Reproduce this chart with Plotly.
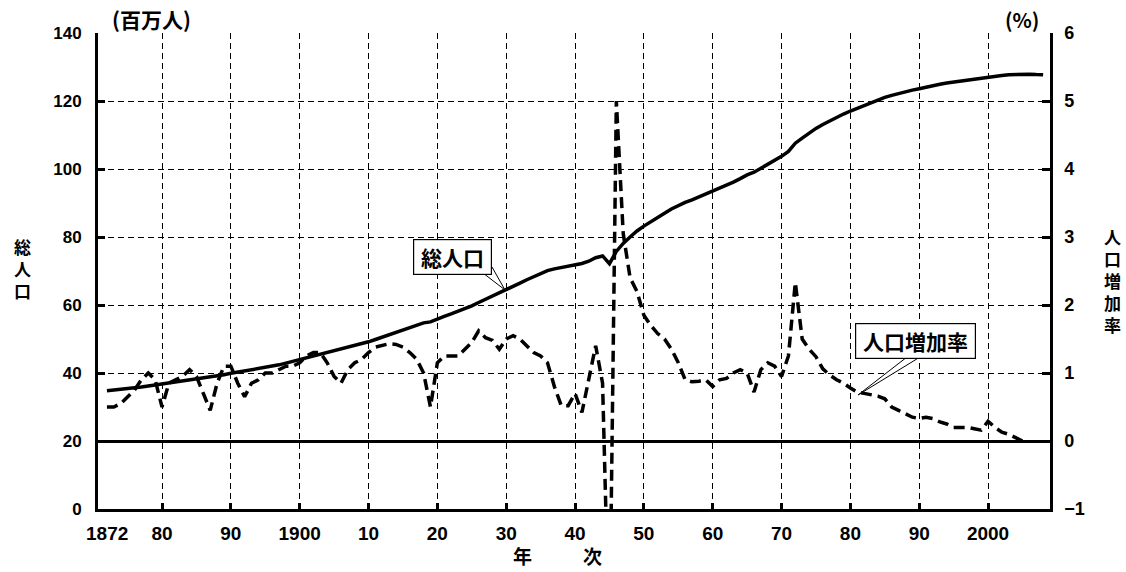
import plotly.graph_objects as go

# ---------------- data ----------------
pop_years = list(range(1872, 2009))
population = [
    34.81, 34.99, 35.15, 35.32, 35.56, 35.87, 36.17, 36.46, 36.65, 36.97,
    37.26, 37.57, 37.96, 38.31, 38.54, 38.70, 39.03, 39.47, 39.90, 40.25,
    40.51, 40.86, 41.14, 41.56, 41.99, 42.40, 42.89, 43.40, 43.85, 44.36,
    44.96, 45.55, 46.14, 46.62, 47.04, 47.42, 47.97, 48.55, 49.18, 49.85,
    50.58, 51.31, 52.04, 52.75, 53.50, 54.13, 54.74, 55.03, 55.96, 56.67,
    57.39, 58.12, 58.88, 59.74, 60.74, 61.66, 62.60, 63.46, 64.45, 65.46,
    66.43, 67.43, 68.31, 69.25, 70.11, 70.63, 71.01, 71.38, 71.93, 72.22,
    72.88, 73.90, 74.43, 72.15, 75.75, 78.10, 80.00, 81.77, 83.20, 84.54,
    85.81, 86.98, 88.24, 89.28, 90.17, 90.93, 91.77, 92.64, 93.42, 94.29,
    95.18, 96.16, 97.18, 98.28, 99.04, 100.20, 101.33, 102.54, 103.72, 105.15,
    107.60, 109.10, 110.57, 111.94, 113.09, 114.17, 115.19, 116.16, 117.06, 117.90,
    118.73, 119.54, 120.31, 121.05, 121.66, 122.24, 122.75, 123.21, 123.61, 124.10,
    124.57, 124.94, 125.27, 125.57, 125.86, 126.16, 126.47, 126.67, 126.93, 127.32,
    127.49, 127.69, 127.79, 127.77, 127.90, 127.77, 127.69,
]

rate_years = list(range(1872, 2006))
growth_rate = [
    0.50, 0.50, 0.55, 0.65, 0.75, 0.90, 1.00, 0.90, 0.50, 0.85,
    0.90, 0.95, 1.05, 0.95, 0.70, 0.45, 0.85, 1.10, 1.10, 0.85,
    0.65, 0.85, 0.90, 1.00, 1.00, 1.05, 1.10, 1.10, 1.15, 1.25,
    1.30, 1.30, 1.15, 0.95, 0.85, 1.05, 1.15, 1.20, 1.30, 1.38,
    1.40, 1.43, 1.42, 1.38, 1.30, 1.20, 1.00, 0.50, 1.15, 1.25,
    1.25, 1.25, 1.35, 1.45, 1.62, 1.52, 1.48, 1.35, 1.50, 1.55,
    1.50, 1.40, 1.30, 1.25, 1.15, 0.80, 0.52, 0.52, 0.70, 0.42,
    0.90, 1.40, 0.85, -3.07, 5.00, 3.05, 2.40, 2.20, 1.85, 1.70,
    1.58, 1.50, 1.35, 1.15, 0.90, 0.87, 0.88, 0.90, 0.80, 0.90,
    0.92, 1.00, 1.05, 1.00, 0.72, 1.05, 1.15, 1.10, 0.95, 1.25,
    2.33, 1.50, 1.35, 1.24, 1.06, 0.97, 0.90, 0.85, 0.78, 0.72,
    0.70, 0.68, 0.66, 0.62, 0.50, 0.45, 0.40, 0.35, 0.33, 0.35,
    0.33, 0.28, 0.25, 0.20, 0.20, 0.20, 0.18, 0.16, 0.29, 0.20,
    0.13, 0.10, 0.05, 0.00,
]

x_tick_vals = [1880, 1890, 1900, 1910, 1920, 1930, 1940, 1950, 1960, 1970, 1980, 1990, 2000]
x_tick_text = ["80", "90", "1900", "10", "20", "30", "40", "50", "60", "70", "80", "90", "2000"]
first_year_label = "1872"
left_ticks = [0, 20, 40, 60, 80, 100, 120, 140]
right_ticks = [-1, 0, 1, 2, 3, 4, 5, 6]

# ---------------- layout helpers ----------------
W, H = 1126, 572
L, R, T, B = 98, 1050, 33, 509   # plot area in window pixels


def px2paper(px, py):
    return (px - L) / (R - L), (B - py) / (B - T)


NUM = "Liberation Sans, Arial, sans-serif"
JP = "Noto Sans CJK JP, sans-serif"


def JPF(s):
    return dict(family=JP, size=s, color="black", weight="bold")


fig = go.Figure()
fig.add_trace(go.Scatter(
    x=pop_years, y=population, mode="lines", name="総人口",
    line=dict(color="black", width=3.5), yaxis="y",
))
fig.add_trace(go.Scatter(
    x=rate_years, y=growth_rate, mode="lines", name="人口増加率",
    line=dict(color="black", width=3.5, dash="11px,6px"), yaxis="y2",
))

fig.update_layout(
    width=W, height=H,
    margin=dict(l=L, r=W - R, t=T, b=H - B),
    paper_bgcolor="white", plot_bgcolor="white",
    showlegend=False,
    xaxis=dict(
        range=[1870.7, 2009.0], tickmode="array", tickvals=x_tick_vals, ticktext=x_tick_text,
        showgrid=True, gridcolor="black", gridwidth=1, griddash="6px,4px",
        showline=True, linecolor="black", linewidth=3,
        ticks="inside", ticklen=6, tickwidth=3, tickcolor="black",
        tickfont=dict(family=NUM, size=19, color="black", weight="bold"),
        zeroline=False, ticklabelstandoff=5,
    ),
    yaxis=dict(
        range=[0, 140], tickmode="array", tickvals=left_ticks,
        showgrid=True, gridcolor="black", gridwidth=1, griddash="6px,4px",
        showline=True, linecolor="black", linewidth=3,
        ticks="inside", ticklen=7, tickwidth=3, tickcolor="black",
        tickfont=dict(family=NUM, size=17, color="black", weight="bold"),
        zeroline=False, ticklabelstandoff=10,
    ),
    yaxis2=dict(
        range=[-1, 6], tickmode="array", tickvals=right_ticks,
        overlaying="y", side="right", showgrid=False,
        showline=True, linecolor="black", linewidth=2.5,
        ticks="inside", ticklen=8, tickwidth=3, tickcolor="black",
        tickfont=dict(family=NUM, size=18, color="black", weight="bold"),
        zeroline=True, zerolinecolor="black", zerolinewidth=3,
        ticklabelstandoff=8,
    ),
)

ann = []


def add_text(px, py, text, font, **kw):
    ax, ay = px2paper(px, py)
    ann.append(dict(x=ax, y=ay, xref="paper", yref="paper", text=text, showarrow=False,
                    font=font, xanchor="center", yanchor="middle", **kw))


# first x label (no grid line at 1872)
ann.append(dict(x=1872, y=(B - 533) / (B - T), xref="x", yref="paper", text=first_year_label,
                showarrow=False, font=dict(family=NUM, size=19, color="black", weight="bold"),
                xanchor="center", yanchor="middle"))
# unit labels
add_text(151, 19, "(百万人)", JPF(21))
add_text(1022, 19, "(%)", JPF(20))
# x title
add_text(522, 555, "年", JPF(19))
add_text(592, 555, "次", JPF(19))
# vertical axis titles
add_text(22, 268, "総<br>人<br>口", JPF(17))
add_text(1112, 280, "人<br>口<br>増<br>加<br>率", JPF(17))
# callout boxes
add_text(452, 257, " 総人口 ", JPF(21), bgcolor="white", bordercolor="black",
         borderwidth=1.2, borderpad=2)
add_text(915, 341, " 人口増加率 ", JPF(21), bgcolor="white", bordercolor="black",
         borderwidth=1.2, borderpad=2)
fig.update_layout(annotations=ann)

# callout pointer wedges
shapes = []
for (p1, p2, tip) in (((483, 273), (492, 267), (505, 290)),
                      ((907, 357), (920, 357), (858, 395))):
    a = px2paper(*p1)
    b = px2paper(*p2)
    c = px2paper(*tip)
    shapes.append(dict(type="path", xref="paper", yref="paper",
                       path=f"M {a[0]},{a[1]} L {c[0]},{c[1]} L {b[0]},{b[1]}",
                       line=dict(color="black", width=1), fillcolor="white"))
fig.update_layout(shapes=shapes)

# remove the browser's default page margin so the figure sits at the window origin
fig.write_html(
    "out.html",
    config={"displayModeBar": False},
    post_script="document.body.style.margin='0';document.body.style.overflow='hidden';",
)
